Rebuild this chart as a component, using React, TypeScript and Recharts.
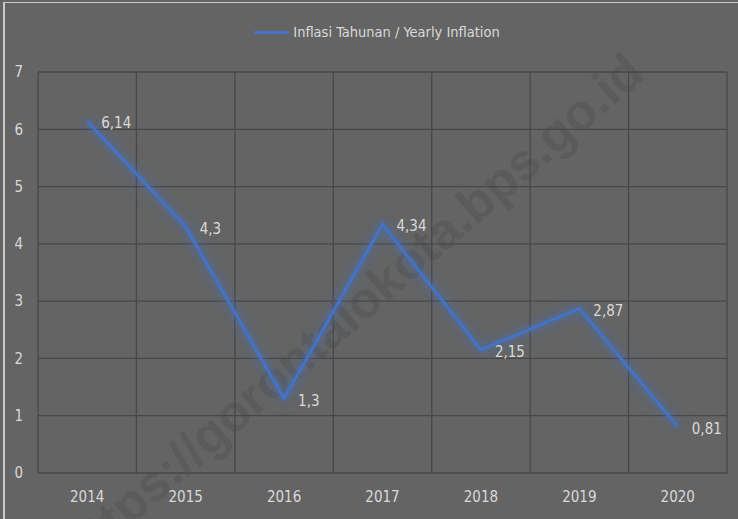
import React from "react";
import {
  LineChart,
  Line,
  XAxis,
  YAxis,
  CartesianGrid,
  Legend,
  LabelList,
} from "recharts";

const years = ["2014", "2015", "2016", "2017", "2018", "2019", "2020"];
const inflation = [6.14, 4.3, 1.3, 4.34, 2.15, 2.87, 0.81];
const yTicks = [0, 1, 2, 3, 4, 5, 6, 7];
const seriesName = "Inflasi Tahunan / Yearly Inflation";
const watermark = "https://gorontalokota.bps.go.id";

const data = years.map((year, i) => ({ year, idx: i + 0.5, value: inflation[i] }));
const gridTicks = years.map((_, i) => i).concat([years.length]);

const FONT = '"Liberation Sans Narrow", "DejaVu Sans Condensed", sans-serif';
const TEXT = "#d9d9d9";
const BLUE = "#4472c4";

const ValueLabel = (props: any) => {
  const { x, y, value } = props;
  return (
    <text
      x={x + 14}
      y={y + 2}
      fill={TEXT}
      fontSize={15}
      fontFamily={FONT}
      dominantBaseline="central"
    >
      {String(value).replace(".", ",")}
    </text>
  );
};

const LegendBox = () => (
  <div
    style={{
      height: 40,
      display: "flex",
      alignItems: "center",
      justifyContent: "center",
      paddingLeft: 16,
      fontFamily: FONT,
      fontSize: 14.5,
      color: TEXT,
    }}
  >
    <span style={{ width: 35, height: 3, background: BLUE, marginRight: 4 }} />
    <span>{seriesName}</span>
  </div>
);

export default function App() {
  return (
    <div
      style={{
        position: "absolute",
        top: 0,
        left: 0,
        width: 738,
        height: 519,
        background: "#646464",
        overflow: "hidden",
      }}
    >
      <style>{`.glow-line .recharts-line-curve { filter: drop-shadow(0 0 3px rgba(68,114,196,0.8)) drop-shadow(0 0 7px rgba(68,114,196,0.5)); }`}</style>
      <div
        style={{
          position: "absolute",
          left: 3,
          top: 2,
          right: 0,
          bottom: 0,
          borderLeft: "2px solid #c9c9c9",
          borderTop: "1px solid #c9c9c9",
        }}
      />
      <div
        style={{
          position: "absolute",
          left: 352,
          top: 310,
          transform: "translate(-50%, -50%) rotate(-41deg)",
          whiteSpace: "nowrap",
          fontFamily: '"Liberation Sans", Arial, sans-serif',
          fontWeight: 700,
          fontSize: 51,
          color: "rgba(0,0,0,0.09)",
          pointerEvents: "none",
        }}
      >
        {watermark}
      </div>
      <LineChart
        width={738}
        height={519}
        data={data}
        margin={{ top: 32, right: 11, bottom: 16, left: 8 }}
        style={{ position: "absolute", top: 0, left: 0 }}
      >
        <Legend
          verticalAlign="top"
          wrapperStyle={{ top: 12, left: 0, width: 738 }}
          content={<LegendBox />}
        />
        <CartesianGrid
          xAxisId="grid"
          stroke="#474747"
          strokeWidth={1.3}
          horizontal
          vertical
        />
        <XAxis
          xAxisId="grid"
          type="number"
          dataKey="idx"
          domain={[0, years.length]}
          ticks={gridTicks}
          hide
        />
        <XAxis
          dataKey="year"
          scale="band"
          axisLine={false}
          tickLine={false}
          tickSize={0}
          tickMargin={18}
          height={30}
          tick={{ fill: TEXT, fontSize: 15, fontFamily: FONT }}
        />
        <YAxis
          domain={[0, 7]}
          ticks={yTicks}
          width={30}
          axisLine={false}
          tickLine={false}
          tickSize={0}
          tickMargin={15}
          tick={{ fill: TEXT, fontSize: 15, fontFamily: FONT }}
        />
        <Line
          className="glow-line"
          type="linear"
          dataKey="value"
          name={seriesName}
          stroke={BLUE}
          strokeWidth={3}
          dot={false}
          activeDot={false}
          isAnimationActive={false}
        >
          <LabelList dataKey="value" content={<ValueLabel />} />
        </Line>
      </LineChart>
    </div>
  );
}
